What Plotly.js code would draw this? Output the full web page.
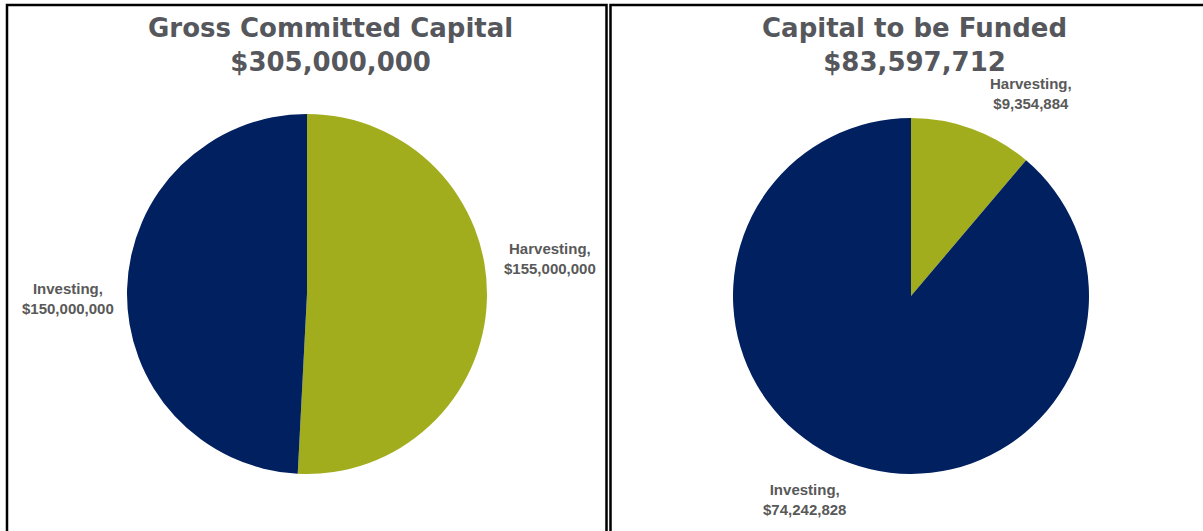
<!DOCTYPE html>
<html>
<head>
<meta charset="utf-8">
<script src="https://cdn.plot.ly/plotly-3.0.1.min.js"></script>
<style>html,body{margin:0;padding:0;background:#fff;}#chart{width:1203px;height:531px;}</style>
</head>
<body>
<div id="chart"></div>
<script>
// ---- data ----
const categories = ["Harvesting", "Investing"];
const grossCommitted = [155000000, 150000000];
const capitalToBeFunded = [9354884, 74242828];
const chartTitles = ["Gross Committed Capital", "Capital to be Funded"];
const sliceColors = ["#a2ad1e", "#002060"];

const W = 1203, H = 531;
const px = x => x / W;
const py = y => 1 - y / H;
const fmt = v => "$" + Math.round(v).toLocaleString("en-US");
const sum = a => a.reduce((s, v) => s + v, 0);

const textFont = {family: "Liberation Sans, Arial, sans-serif", size: 15, color: "#595959", weight: "bold"};
const titleFont = {family: "DejaVu Sans, Verdana, sans-serif", size: 26, color: "#55575c", weight: "bold"};

const traces = [
  {
    type: "pie", labels: categories, values: grossCommitted,
    sort: false, direction: "clockwise", rotation: 0,
    marker: {colors: sliceColors, line: {width: 0}},
    textinfo: "none", hoverinfo: "label+value", showlegend: false,
    domain: {x: [px(127), px(487)], y: [py(474), py(114)]}
  },
  {
    type: "pie", labels: categories, values: capitalToBeFunded,
    sort: false, direction: "clockwise", rotation: 0,
    marker: {colors: sliceColors, line: {width: 0}},
    textinfo: "none", hoverinfo: "label+value", showlegend: false,
    domain: {x: [px(733), px(1089)], y: [py(474), py(118)]}
  }
];

const lab = (name, v) => name + ",<br>" + fmt(v);
const annotations = [
  {text: chartTitles[0] + "<br>" + fmt(sum(grossCommitted)), x: px(330), y: py(45), font: titleFont},
  {text: chartTitles[1] + "<br>" + fmt(sum(capitalToBeFunded)), x: px(914), y: py(45), font: titleFont},
  {text: lab(categories[0], grossCommitted[0]), x: px(550), y: py(258), font: textFont},
  {text: lab(categories[1], grossCommitted[1]), x: px(68), y: py(298), font: textFont},
  {text: lab(categories[0], capitalToBeFunded[0]), x: px(1031), y: py(94), font: textFont},
  {text: lab(categories[1], capitalToBeFunded[1]), x: px(804), y: py(499), font: textFont}
].map(a => Object.assign({xref: "paper", yref: "paper", xanchor: "center", yanchor: "middle", showarrow: false, align: "center"}, a));

const shapes = [
  {type: "rect", xref: "paper", yref: "paper", x0: px(7), x1: px(606.5), y0: py(545), y1: py(5), line: {color: "#000", width: 2.5}},
  {type: "rect", xref: "paper", yref: "paper", x0: px(610.5), x1: px(1215), y0: py(545), y1: py(5), line: {color: "#000", width: 2.5}}
];

const layout = {
  width: W, height: H,
  margin: {l: 0, r: 0, t: 0, b: 0},
  paper_bgcolor: "#ffffff", plot_bgcolor: "#ffffff",
  showlegend: false,
  annotations: annotations,
  shapes: shapes
};

Plotly.newPlot("chart", traces, layout, {displayModeBar: false, staticPlot: true});
</script>
</body>
</html>
